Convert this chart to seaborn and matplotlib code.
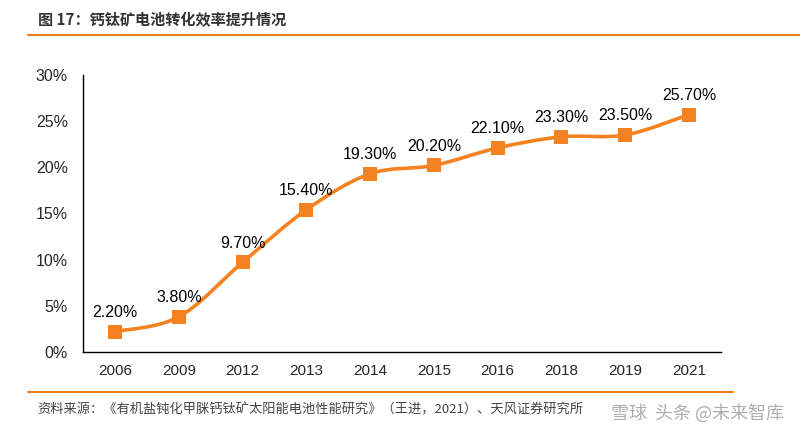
import numpy as np
import pandas as pd
import matplotlib
matplotlib.use("Agg")
import matplotlib.pyplot as plt
from matplotlib.path import Path
from matplotlib.patches import PathPatch
from matplotlib.lines import Line2D
import seaborn as sns

# data
years = ["2006", "2009", "2012", "2013", "2014", "2015", "2016", "2018", "2019", "2021"]
efficiency = [2.2, 3.8, 9.7, 15.4, 19.3, 20.2, 22.1, 23.3, 23.5, 25.7]
y_ticks = [0, 5, 10, 15, 20, 25, 30]

title = "图 17：钙钛矿电池转化效率提升情况"
source = "资料来源：《有机盐钝化甲脒钙钛矿太阳能电池性能研究》（王进，2021）、天风证券研究所"

orange = "#F58220"

sns.set_theme(style="white")
plt.rcParams["font.family"] = ["Liberation Sans", "Noto Sans CJK SC", "DejaVu Sans"]

df = pd.DataFrame({"pos": np.arange(len(years)), "year": years, "eff": efficiency})

fig = plt.figure(figsize=(8, 4.41), dpi=100)
ax = fig.add_axes([0.104, 0.202, 0.797, 0.628])

# smooth line (catmull-rom -> bezier, like excel smoothed lines)
pts = df[["pos", "eff"]].to_numpy(dtype=float)
verts = [tuple(pts[0])]
codes = [Path.MOVETO]
n = len(pts)
for i in range(n - 1):
    p0 = pts[i - 1] if i > 0 else pts[i]
    p1 = pts[i]
    p2 = pts[i + 1]
    p3 = pts[i + 2] if i + 2 < n else pts[i + 1]
    c1 = p1 + (p2 - p0) / 6
    c2 = p2 - (p3 - p1) / 6
    verts += [tuple(c1), tuple(c2), tuple(p2)]
    codes += [Path.CURVE4] * 3
ax.add_patch(PathPatch(Path(verts, codes), fill=False, edgecolor=orange, lw=2.6,
                       capstyle="round", joinstyle="round", zorder=2))

sns.scatterplot(data=df, x="pos", y="eff", marker="s", s=95, color=orange,
                edgecolor=orange, linewidth=0, ax=ax, zorder=3, legend=False)

for p, v in zip(df["pos"], df["eff"]):
    ax.annotate(f"{v:.2f}%", (p, v), xytext=(0, 8.5), textcoords="offset points",
                ha="center", va="bottom", fontsize=11.5, color="black")

ax.set_xlim(-0.5, len(years) - 0.5)
ax.set_ylim(0, 30)
ax.set_yticks(y_ticks)
ax.set_yticklabels([f"{t}%" for t in y_ticks], fontsize=11.5)
ax.set_xticks(df["pos"])
ax.set_xticklabels(years, fontsize=11)
ax.set_xticks(np.arange(-0.5, len(years), 1), minor=True)
ax.tick_params(axis="x", which="major", length=0, pad=9)
ax.tick_params(axis="x", which="minor", length=5, width=1, color="black", direction="out")
ax.tick_params(axis="y", which="major", length=5, width=1, color="black", direction="out", pad=6)
ax.set_xlabel("")
ax.set_ylabel("")
for side in ["top", "right"]:
    ax.spines[side].set_visible(False)
for side in ["left", "bottom"]:
    ax.spines[side].set_color("black")
    ax.spines[side].set_linewidth(1)

# title, source and rules
fig.text(0.047, 0.955, title, fontsize=10.9, fontweight="bold", color="#333333",
         ha="left", va="center", family=["Noto Sans CJK SC", "DejaVu Sans"])
fig.add_artist(Line2D([0.035, 1.0], [0.921, 0.921], color="#F07D1A", lw=1.5))
fig.add_artist(Line2D([0.035, 0.916], [0.111, 0.111], color="#F07D1A", lw=1.5))
fig.text(0.047, 0.07, source, fontsize=9.5, color="#444444", ha="left", va="center",
         family=["Noto Sans CJK SC", "DejaVu Sans"])
fig.text(0.98, 0.063, "雪球  头条 @未来智库", fontsize=13, color="#9a9a9a", alpha=0.8,
         ha="right", va="center", family=["Noto Sans CJK SC", "DejaVu Sans"])

fig.savefig("out.png", dpi=100)
